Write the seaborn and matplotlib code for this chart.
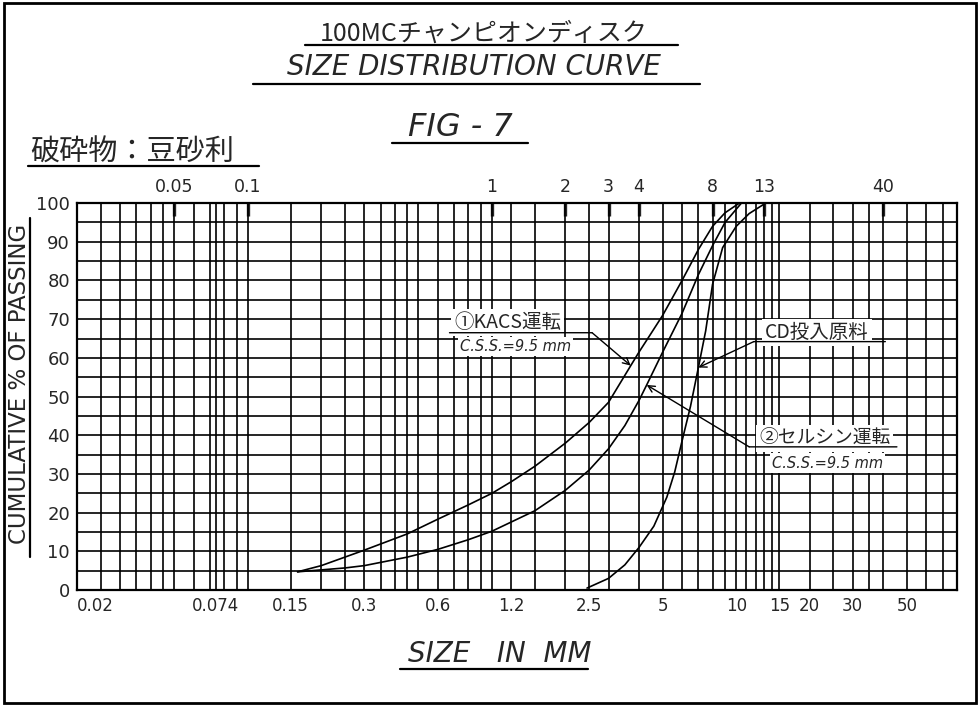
#!/usr/bin/env python3
"""
100MC champion disc - size distribution curve (FIG-7)
"""

import numpy as np
import pandas as pd
import seaborn as sns
import matplotlib
matplotlib.use("Agg")
import matplotlib.pyplot as plt
from matplotlib.lines import Line2D
from matplotlib.patches import Rectangle
from matplotlib.ticker import NullFormatter

# --- data (size in mm, cumulative % passing) ---
kacs_size = [0.16, 0.2, 0.3, 0.45, 0.6, 0.8, 1.0, 1.2, 1.5, 2.0, 2.5, 3.0, 3.7, 4.0, 4.5, 5.0, 6.0, 7.0, 8.0, 9.0, 10.3]
kacs_pct = [4.7, 6.3, 10.3, 14.5, 18.3, 22.0, 25.0, 28.0, 32.0, 38.0, 43.3, 48.5, 58.0, 61.5, 66.5, 71.0, 80.0, 88.0, 94.0, 97.5, 100.0]

selsyn_size = [0.16, 0.25, 0.3, 0.45, 0.6, 0.8, 1.0, 1.5, 2.0, 2.5, 3.0, 3.5, 4.0, 4.3, 5.0, 6.0, 7.0, 8.0, 9.0, 10.5]
selsyn_pct = [4.7, 5.7, 6.3, 8.5, 10.5, 13.0, 15.2, 20.5, 25.8, 31.0, 36.5, 42.5, 49.0, 53.0, 61.5, 71.5, 81.5, 89.0, 95.0, 100.0]

feed_size = [2.45, 3.0, 3.5, 4.0, 4.6, 5.2, 5.6, 6.0, 6.5, 7.0, 7.5, 8.0, 8.8, 10.0, 11.3, 13.2]
feed_pct = [0.5, 3.0, 6.5, 11.0, 16.5, 24.0, 30.5, 38.5, 47.5, 57.5, 67.0, 79.0, 88.5, 94.0, 97.3, 100.0]

# printed graph-paper lines and tick labels
grid_x = [0.02, 0.025, 0.03, 0.035, 0.04, 0.045, 0.05, 0.06, 0.07, 0.074, 0.08, 0.09, 0.1,
          0.15, 0.2, 0.25, 0.3, 0.35, 0.4, 0.45, 0.5, 0.6, 0.7, 0.8, 0.9, 1,
          1.2, 1.5, 2, 2.5, 3, 4, 5, 6, 7, 8, 9, 10, 11, 12, 13, 14, 15,
          20, 25, 30, 35, 40, 50, 60, 70]
bottom_ticks = [0.02, 0.074, 0.15, 0.3, 0.6, 1.2, 2.5, 5, 10, 15, 20, 30, 50]
bottom_labels = ['0.02', '0.074', '0.15', '0.3', '0.6', '1.2', '2.5', '5', '10', '15', '20', '30', '50']
top_ticks = [0.05, 0.1, 1, 2, 3, 4, 8, 13, 40]
top_labels = ['0.05', '0.1', '1', '2', '3', '4', '8', '13', '40']
y_ticks = list(range(0, 101, 10))
y_grid = list(range(0, 101, 5))

runs = ['KACS', 'SELSYN', 'FEED']
df = pd.concat([
    pd.DataFrame({'size': kacs_size, 'pct': kacs_pct, 'run': runs[0]}),
    pd.DataFrame({'size': selsyn_size, 'pct': selsyn_pct, 'run': runs[1]}),
    pd.DataFrame({'size': feed_size, 'pct': feed_pct, 'run': runs[2]}),
])

sns.set_theme(style="white")
plt.rcParams['font.family'] = ['DejaVu Sans', 'Noto Sans CJK JP']
JP = ['Noto Sans CJK JP', 'DejaVu Sans']

fig = plt.figure(figsize=(9.8, 7.06), dpi=100)
ax = fig.add_axes([0.0786, 0.1643, 0.8977, 0.548])
ax.set_xscale('log')

sns.lineplot(data=df, x='size', y='pct', hue='run', palette={r: 'black' for r in runs},
             estimator=None, legend=False, linewidth=1.2, ax=ax)

ax.set_xlim(0.02, 80)
ax.set_ylim(0, 100)
ax.set_xticks(bottom_ticks, labels=bottom_labels)
ax.set_xticks(grid_x, minor=True)
ax.xaxis.set_minor_formatter(NullFormatter())
ax.set_yticks(y_ticks)
ax.set_yticks(y_grid, minor=True)
ax.set_axisbelow(True)
ax.grid(True, which='both', color='black', linewidth=1.2)
ax.tick_params(which='both', length=0)
ax.tick_params(axis='x', labelsize=12, pad=5)
ax.tick_params(axis='y', labelsize=13, pad=5)
ax.set_xlabel('')
ax.set_ylabel('')
for sp in ax.spines.values():
    sp.set_visible(True)
    sp.set_color('black')
    sp.set_linewidth(1.6)
ax.get_xticklabels()[0].set_horizontalalignment('left')

secax = ax.secondary_xaxis('top')
secax.set_xticks(top_ticks, labels=top_labels)
secax.xaxis.set_minor_formatter(NullFormatter())
secax.tick_params(which='major', direction='in', length=9, width=2.4, labelsize=12.5, pad=5)
secax.tick_params(which='minor', length=0)

# --- curve labels ---
box = dict(boxstyle='square,pad=0.15', facecolor='white', edgecolor='none')
line_kw = dict(arrowstyle='-', color='black', lw=1.0, shrinkA=0, shrinkB=0)
arrow_kw = dict(arrowstyle='->', color='black', lw=1.0, shrinkA=0, shrinkB=0)

ax.text(0.70, 69.2, '①KACS運転', family=JP, fontsize=14, va='center', ha='left', bbox=box, zorder=4)
ax.text(0.74, 63.0, 'C.S.S.=9.5 mm', fontsize=10.5, style='italic', va='center', ha='left', bbox=box, zorder=4)
ax.annotate('', xy=(2.57, 66.5), xytext=(0.67, 66.5), arrowprops=line_kw, zorder=5)
ax.annotate('', xy=(kacs_size[12], kacs_pct[12]), xytext=(2.57, 66.5), arrowprops=arrow_kw, zorder=5)

ax.text(13.1, 66.6, 'CD投入原料', family=JP, fontsize=14, va='center', ha='left', bbox=box, zorder=4)
ax.annotate('', xy=(40.8, 64.2), xytext=(11.8, 64.2), arrowprops=line_kw, zorder=5)
ax.annotate('', xy=(feed_size[9], feed_pct[9]), xytext=(11.8, 64.2), arrowprops=arrow_kw, zorder=5)

ax.text(12.4, 39.2, '②セルシン運転', family=JP, fontsize=13.5, va='center', ha='left', bbox=box, zorder=4)
ax.text(14.0, 32.8, 'C.S.S.=9.5 mm', fontsize=10.5, style='italic', va='center', ha='left', bbox=box, zorder=4)
ax.annotate('', xy=(45.5, 37.0), xytext=(11.3, 37.0), arrowprops=line_kw, zorder=5)
ax.annotate('', xy=(selsyn_size[13], selsyn_pct[13]), xytext=(11.3, 37.0), arrowprops=arrow_kw, zorder=5)

# --- titles and axis names (figure coordinates) ---
def underline(x0, x1, y, lw=1.6):
    fig.add_artist(Line2D([x0, x1], [y, y], transform=fig.transFigure, color='black', lw=lw))

fig.text(0.494, 0.952, '100MCチャンピオンディスク', family=JP, fontsize=18, ha='center', va='center')
underline(0.311, 0.692, 0.936)
fig.text(0.484, 0.905, 'SIZE DISTRIBUTION CURVE', fontsize=20, style='italic', ha='center', va='center')
underline(0.258, 0.714, 0.881)
fig.text(0.470, 0.819, 'FIG - 7', fontsize=23, style='italic', ha='center', va='center')
underline(0.400, 0.539, 0.797)
fig.text(0.031, 0.783, '破砕物：豆砂利', family=JP, fontsize=21, ha='left', va='center')
underline(0.029, 0.264, 0.765)

fig.text(0.510, 0.074, 'SIZE   IN  MM', fontsize=20, style='italic', ha='center', va='center')
underline(0.408, 0.600, 0.052)

fig.text(0.020, 0.456, 'CUMULATIVE % OF PASSING', fontsize=16.5, rotation=90, ha='center', va='center')
fig.add_artist(Line2D([0.031, 0.031], [0.211, 0.691], transform=fig.transFigure, color='black', lw=1.6))

# outer frame of the sheet
fig.add_artist(Rectangle((0.004, 0.004), 0.992, 0.992, transform=fig.transFigure,
                         fill=False, edgecolor='black', lw=2.0))

fig.savefig('out.png', dpi=100, facecolor='white')
